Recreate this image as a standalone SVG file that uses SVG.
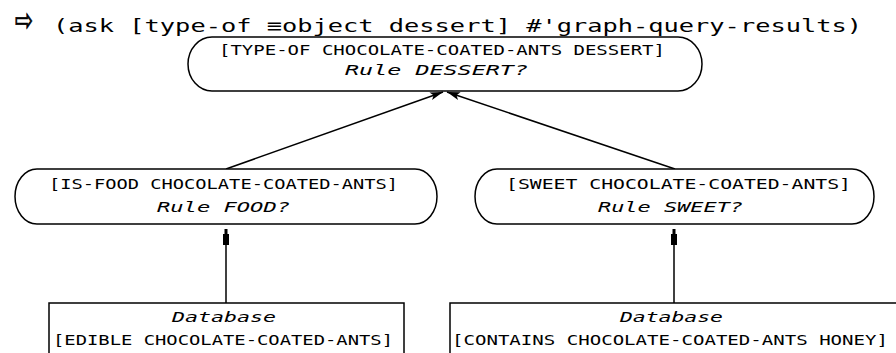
<svg xmlns="http://www.w3.org/2000/svg" width="896" height="353" viewBox="0 0 896 353">
<style>
  .bg { fill: #ffffff; }
  .node { fill: #ffffff; stroke: #000000; stroke-width: 1.5; }
  .t { font-family: "DejaVu Sans Mono", "Liberation Mono", monospace; font-size: 14px; fill: #000000; }
  .ti { font-family: "DejaVu Sans Mono", "Liberation Mono", monospace; font-size: 14px; font-style: italic; fill: #000000; }
  .title { font-family: "DejaVu Sans Mono", "Liberation Mono", monospace; font-size: 18px; fill: #000000; }
  .edge { fill: none; stroke: #000000; stroke-width: 1.5; }
</style>
<defs>
  <marker id="head" markerUnits="userSpaceOnUse" markerWidth="14" markerHeight="10" viewBox="0 -5 14 10" refX="13" refY="0" orient="auto">
    <path d="M0,-4 L13,0 L0,4 L3,0 z" fill="#000000"/>
  </marker>
  <marker id="tick" markerUnits="userSpaceOnUse" markerWidth="17" markerHeight="8" viewBox="0 -4 17 8" refX="16" refY="0" orient="auto">
    <path d="M0,-3 L11,-3 L11,-1.5 L16,-1.5 L16,1.5 L11,1.5 L11,3 L0,3 z" fill="#000000"/>
  </marker>
</defs>
<rect class="bg" x="0" y="0" width="896" height="353"/>

<g id="query">
  <text x="15" y="31" font-family="DejaVu Sans, sans-serif" font-size="32" stroke="#000000" stroke-width="0.8" textLength="18" lengthAdjust="spacingAndGlyphs">⇨</text>
  <text class="title" x="53" y="32" textLength="809" lengthAdjust="spacingAndGlyphs">(ask [type-of ≡object dessert] #'graph-query-results)</text>
</g>

<g id="connectors">
  <line class="edge" x1="226" y1="169" x2="443" y2="92" marker-end="url(#head)"/>
  <line class="edge" x1="675" y1="169" x2="447" y2="92" marker-end="url(#head)"/>
  <line class="edge" x1="226" y1="303" x2="226" y2="229" marker-end="url(#tick)"/>
  <line class="edge" x1="674" y1="303" x2="674" y2="229" marker-end="url(#tick)"/>
</g>

<g id="node-dessert">
  <rect class="node" x="188" y="37" width="514" height="54" rx="24" ry="27"/>
  <text class="t" x="219" y="55" textLength="446" lengthAdjust="spacingAndGlyphs">[TYPE-OF CHOCOLATE-COATED-ANTS DESSERT]</text>
  <text class="ti" x="345" y="75" textLength="183" lengthAdjust="spacingAndGlyphs">Rule DESSERT?</text>
</g>

<g id="node-food">
  <rect class="node" x="15" y="169" width="422" height="55" rx="22" ry="27.5"/>
  <text class="t" x="49" y="189" textLength="349" lengthAdjust="spacingAndGlyphs">[IS-FOOD CHOCOLATE-COATED-ANTS]</text>
  <text class="ti" x="157" y="212" textLength="133" lengthAdjust="spacingAndGlyphs">Rule FOOD?</text>
</g>

<g id="node-sweet">
  <rect class="node" x="475" y="169" width="399" height="55" rx="22" ry="27.5"/>
  <text class="t" x="506" y="189" textLength="345" lengthAdjust="spacingAndGlyphs">[SWEET CHOCOLATE-COATED-ANTS]</text>
  <text class="ti" x="598" y="212" textLength="145" lengthAdjust="spacingAndGlyphs">Rule SWEET?</text>
</g>

<g id="db-edible">
  <rect class="node" x="49" y="303" width="355" height="70"/>
  <text class="ti" x="172" y="322" textLength="104" lengthAdjust="spacingAndGlyphs">Database</text>
  <text class="t" x="53" y="345" textLength="340" lengthAdjust="spacingAndGlyphs">[EDIBLE CHOCOLATE-COATED-ANTS]</text>
</g>

<g id="db-contains">
  <rect class="node" x="450" y="303" width="470" height="70"/>
  <text class="ti" x="620" y="322" textLength="103" lengthAdjust="spacingAndGlyphs">Database</text>
  <text class="t" x="452" y="345" textLength="436" lengthAdjust="spacingAndGlyphs">[CONTAINS CHOCOLATE-COATED-ANTS HONEY]</text>
</g>
</svg>
